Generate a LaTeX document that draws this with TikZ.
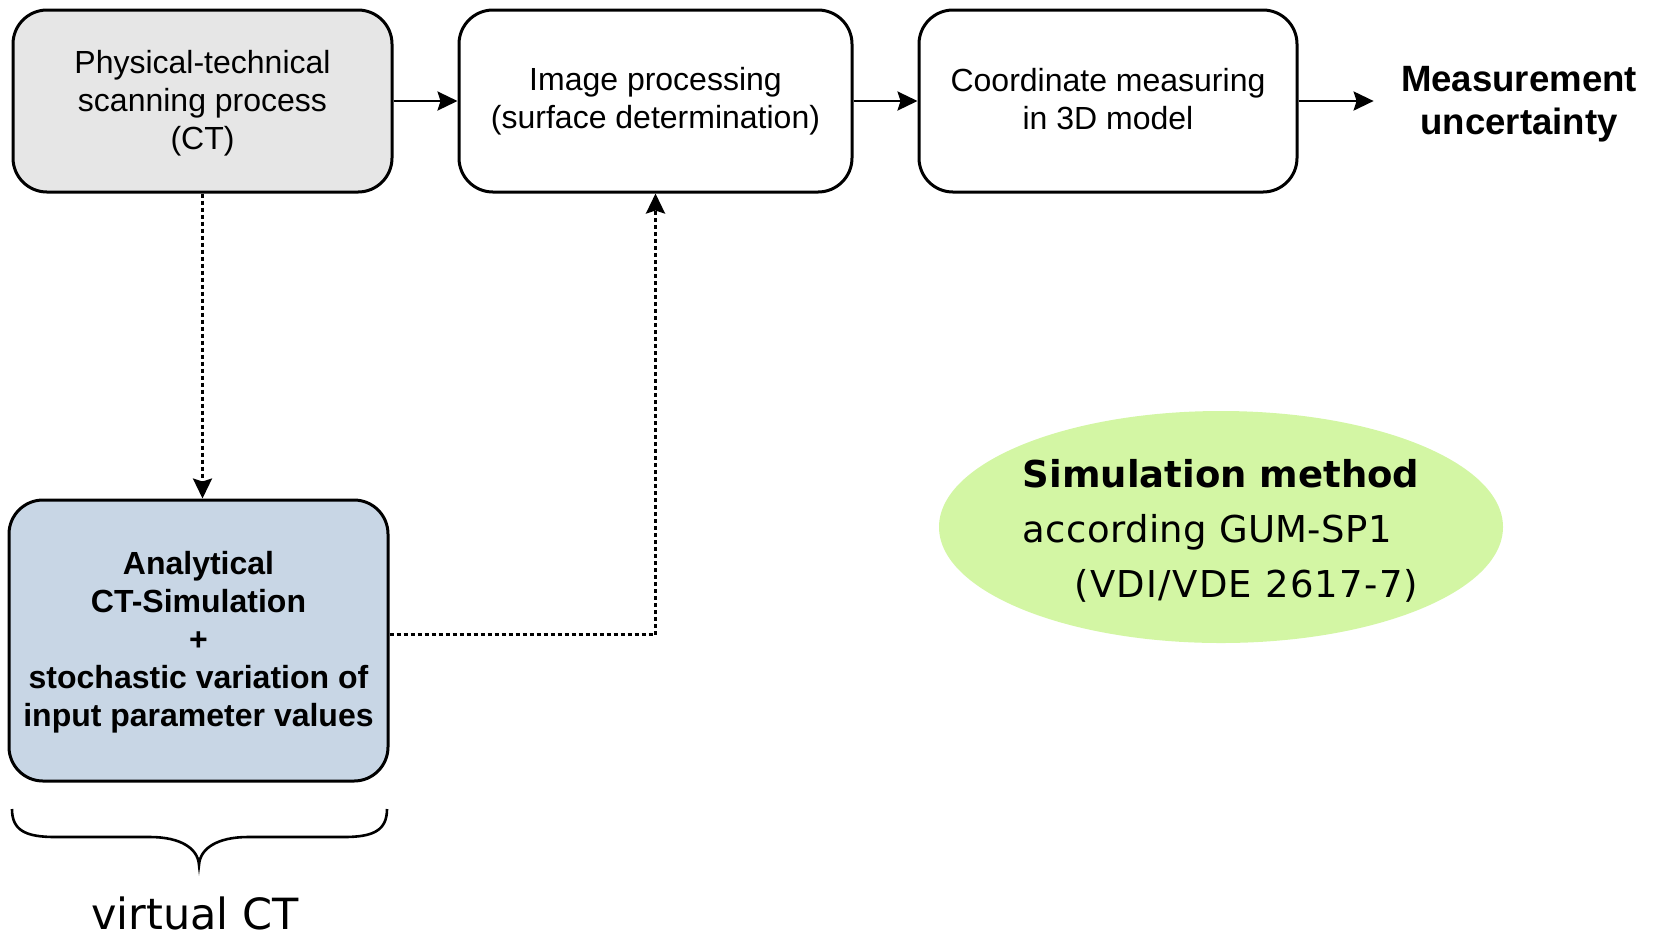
\documentclass[tikz,border=0pt]{standalone}
\usepackage{fontspec}
\setmainfont{Liberation Sans}
\newfontfamily\dejavu{DejaVu Sans}
\usetikzlibrary{arrows.meta,shapes.geometric}
\definecolor{boxgray}{RGB}{230,230,230}
\definecolor{boxblue}{RGB}{200,214,229}
\definecolor{ellgreen}{RGB}{211,246,164}
\tikzset{
  procbox/.style={draw=black, line width=1.5pt, rounded corners=17pt, align=center,
    minimum height=91pt, inner sep=0pt, font=\fontsize{16}{19}\selectfont},
  flowarrow/.style={line width=1.3pt, -{Stealth[length=10pt,width=9.5pt,inset=1.5pt]}},
  dotarrow/.style={line width=1.4pt, dash pattern=on 2pt off 1.5pt, -{Stealth[length=10pt,width=9.5pt,inset=1.5pt]}}
}
\begin{document}
\begin{tikzpicture}[x=0.5pt,y=-0.5pt]
\useasboundingbox (0,0) rectangle (1655,934);
\node[procbox, fill=boxgray, minimum width=189.5pt] (b1) at (202.5,101)
  {\rule{0pt}{13.7pt}Physical-technical\\scanning process\\(CT)};
\node[procbox, fill=white, minimum width=196.5pt] (b2) at (655.5,101)
  {Image processing\\(surface determination)};
\node[procbox, fill=white, minimum width=189pt] (b3) at (1108,101)
  {Coordinate measuring\\in 3D model\rule[-2pt]{0pt}{2pt}};
\node[align=center, inner xsep=13.5pt, inner ysep=0pt, font=\fontsize{18.3}{21.5}\selectfont\bfseries] (mu) at (1519,104)
  {Measurement\\uncertainty};
\node[procbox, fill=boxblue, minimum width=189.5pt, minimum height=140.5pt,
  font=\fontsize{16}{19}\selectfont\bfseries] (b4) at (198.5,640.5)
  {\rule{0pt}{13.3pt}Analytical\\CT-Simulation\\+\\stochastic variation of\\input parameter values};
\node[ellipse, fill=ellgreen, minimum width=282pt, minimum height=116pt, inner sep=0pt] (sim) at (1221,527) {};
\node[align=left, font=\dejavu\fontsize{18.5}{27.5}\selectfont, inner sep=0pt] (simtext) at (1221,531)
  {\textbf{Simulation method}\\{\addfontfeature{LetterSpace=1}according GUM-SP1}\\\hspace*{26pt}{\addfontfeature{LetterSpace=3.4}(VDI/VDE 2617-7)}};
\node[anchor=base, font=\dejavu\fontsize{21.5}{25}\selectfont, inner sep=0pt] (vct) at (195,929) {virtual CT};

\draw[flowarrow] (b1.east) -- (b2.west);
\draw[flowarrow] (b2.east) -- (b3.west);
\draw[flowarrow] (b3.east) -- ([yshift=1.5pt]mu.west);
\draw[dotarrow] (b1.south) -- (b1.south |- b4.north);
\draw[dotarrow] ([yshift=3pt]b4.east) -| (b2.south);

% brace
\draw[line width=1.3pt]
  (12,809) .. controls (12,830) and (25,837) .. (55,837)
  -- (150,837) .. controls (180,837) and (198,848) .. (199,865)
  .. controls (200,848) and (218,837) .. (248,837)
  -- (344,837) .. controls (374,837) and (387,830) .. (387,809);
\end{tikzpicture}
\end{document}
